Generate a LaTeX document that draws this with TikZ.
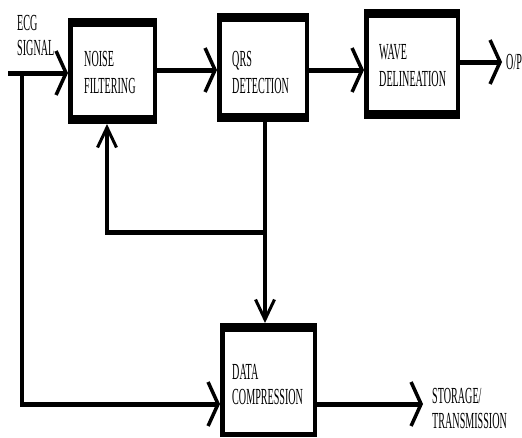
\documentclass[tikz,border=0pt]{standalone}
\usepackage{fontspec}
\newfontfamily\condfont[FakeStretch=0.44]{Liberation Serif}
\usetikzlibrary{arrows.meta,calc}
\begin{document}
\begin{tikzpicture}[x=1pt,y=-1pt,
  blk/.style={fill=black, inner sep=0pt, outer sep=0pt,
    path picture={\fill[white] ($(path picture bounding box.south west)+(4.5pt,#1)$) rectangle ($(path picture bounding box.north east)+(-4.5pt,-9pt)$);}},
  blk/.default=9pt,
  hl/.style={line width=5pt},
  vl/.style={line width=3.5pt},
  harr/.style={-{Straight Barb[length=10pt,width=44pt,line width=3.5pt]}},
  varr/.style={-{Straight Barb[length=20pt,width=19pt,line width=3pt]}},
  txt/.style={font=\fontsize{23}{27}\selectfont\condfont, inner sep=0pt, anchor=north west, align=left},
  txts/.style={txt, font=\fontsize{23}{25}\selectfont\condfont}
]
\useasboundingbox (0,0) rectangle (522,437);
% boxes
\node[blk, minimum width=89pt, minimum height=106pt] (nf) at (112.5,71) {};
\node[blk, minimum width=92pt, minimum height=109pt] (qrs) at (263,67.5) {};
\node[blk, minimum width=96pt, minimum height=110pt] (wave) at (412,64) {};
\node[blk=5pt, minimum width=97pt, minimum height=114pt] (data) at (268.5,380) {};
% texts
\node[txts] (tecg) at (17,15) {ECG\\SIGNAL};
\node[txt] (tnf) at (84,51) {NOISE\\FILTERING};
\node[txt] (tqrs) at (232,51) {QRS\\DETECTION};
\node[txt] (twave) at (379,44) {WAVE\\DELINEATION};
\node[txts] (tdata) at (232,364) {DATA\\COMPRESSION};
\node[txts] (tst) at (432,388) {STORAGE/\\TRANSMISSION};
\node[txt] (top) at (506,54) {O/P};
% coordinates
\coordinate (ecg) at (8,73);
\coordinate (j1) at (22,73);
\coordinate (j2) at (22,404);
\coordinate (r70) at (0,70);
\coordinate (fbR) at (265,232);
\coordinate (fbL) at (107,232);
\coordinate (op) at (502,62);
\coordinate (st) at (423,404);
% connectors
\draw[hl,harr] (ecg) -- (ecg -| nf.west);
\draw[hl,harr] (nf.east |- r70) -- (qrs.west |- r70);
\draw[hl,harr] (qrs.east |- r70) -- (wave.west |- r70);
\draw[hl,harr] (wave.east |- op) -- (op);
\draw[vl] (j1) -- ([yshift=-2.5pt]j2);
\draw[hl,harr] ([xshift=-1.75pt]j2) -- (j2 -| data.west);
\draw[vl,varr] (fbR |- qrs.south) -- (fbR |- data.north);
\draw[hl] ([xshift=1.75pt]fbR) -- ([xshift=-1.75pt]fbL);
\draw[vl,varr] ([yshift=-2.5pt]fbL) -- (fbL |- nf.south);
\draw[hl,harr] (data.east |- st) -- (st);
\end{tikzpicture}
\end{document}
